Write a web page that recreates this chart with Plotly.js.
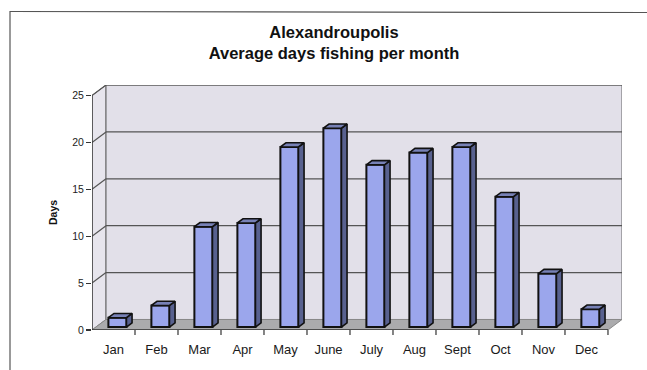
<!DOCTYPE html>
<html>
<head>
<meta charset="utf-8">
<script src="https://cdn.plot.ly/plotly-3.0.1.min.js"></script>
<style>html,body{margin:0;padding:0;background:#fff;}#chart{width:647px;height:370px;}</style>
</head>
<body>
<div id="chart"></div>
<script>
// ---- data ----
var months = ['Jan','Feb','Mar','Apr','May','June','July','Aug','Sept','Oct','Nov','Dec'];
var days = [1.0, 2.3, 10.7, 11.1, 19.2, 21.2, 17.3, 18.6, 19.2, 13.9, 5.7, 1.9];
var yTicks = [0, 5, 10, 15, 20, 25];
var chartTitle = 'Alexandroupolis<br>Average days fishing per month';
var yTitle = 'Days';

// ---- 3D look (style constants) ----
var DX = 0.326, DY = 1.12;      // depth offset of back wall in axis units
var F0 = 0.28, F1 = 0.68;       // bar front/back depth fractions
var BW = 0.42;                  // bar front width
var YMAX = 25;
var n = months.length;
var xs = months.map(function(_, i){ return i; });

var FONT = 'Arial, "Liberation Sans", sans-serif';
var W = 647, H = 370, ML = 92, MR = 25, MT = 85, MB = 40;
function px2paperX(p){ return (p - ML) / (W - ML - MR); }
function px2paperY(p){ return (H - MB - p) / (H - MT - MB); }

// side faces and top faces as filled polygons
var sideX = [], sideY = [], topX = [], topY = [];
for (var i = 0; i < n; i++) {
  var xl = xs[i] - BW/2 + F0*DX, xr = xs[i] + BW/2 + F0*DX;
  var b = F0*DY, t = days[i] + F0*DY;
  var ddx = (F1 - F0)*DX, ddy = (F1 - F0)*DY;
  sideX.push(xr, xr + ddx, xr + ddx, xr, xr, null);
  sideY.push(b, b + ddy, t + ddy, t, b, null);
  topX.push(xl, xr, xr + ddx, xl + ddx, xl, null);
  topY.push(t, t, t + ddy, t + ddy, t, null);
}

var traces = [
  {type:'scatter', mode:'lines', x: sideX, y: sideY, fill:'toself', fillcolor:'#58618f',
   line:{color:'#111', width:1.6}, hoverinfo:'skip', showlegend:false},
  {type:'scatter', mode:'lines', x: topX, y: topY, fill:'toself', fillcolor:'#7781b6',
   line:{color:'#111', width:1.6}, hoverinfo:'skip', showlegend:false},
  {type:'bar', x: xs.map(function(v){ return v + F0*DX; }), y: days,
   base: days.map(function(){ return F0*DY; }), width: BW,
   marker:{color:'#9ba6ec', line:{color:'#111', width:2}},
   hoverinfo:'x+y', showlegend:false}
];

var shapes = [];
// left wall
shapes.push({type:'path', layer:'below', xref:'x', yref:'y',
  path:'M -0.5 0 L -0.5 '+YMAX+' L '+(-0.5+DX)+' '+(YMAX+DY)+' L '+(-0.5+DX)+' '+DY+' Z',
  fillcolor:'#e7e5ed', line:{color:'#666', width:1}});
// back wall
shapes.push({type:'rect', layer:'below', xref:'x', yref:'y',
  x0:-0.5+DX, x1:n-0.5+DX, y0:DY, y1:YMAX+DY,
  fillcolor:'#e2e0e9', line:{color:'#666', width:1}});
// floor
shapes.push({type:'path', layer:'below', xref:'x', yref:'y',
  path:'M -0.5 0 L '+(n-0.5)+' 0 L '+(n-0.5+DX)+' '+DY+' L '+(-0.5+DX)+' '+DY+' Z',
  fillcolor:'#ababad', line:{color:'#888', width:1}});
// gridlines
yTicks.forEach(function(v){
  if (v === 0) return;
  shapes.push({type:'line', layer:'below', xref:'x', yref:'y',
    x0:-0.5+DX, x1:n-0.5+DX, y0:v+DY, y1:v+DY, line:{color:'#555', width:1.2}});
  shapes.push({type:'line', layer:'below', xref:'x', yref:'y',
    x0:-0.5, x1:-0.5+DX, y0:v, y1:v+DY, line:{color:'#555', width:1.2}});
});
// front axes lines
shapes.push({type:'line', xref:'x', yref:'y', x0:-0.5, x1:-0.5, y0:0, y1:YMAX, line:{color:'#333', width:1.3}});
shapes.push({type:'line', xref:'x', yref:'y', x0:-0.5, x1:n-0.5, y0:0, y1:0, line:{color:'#333', width:1.3}});
// category boundary ticks (below the front floor edge)
for (var k = 1; k <= n; k++) {
  shapes.push({type:'line', xref:'x', yref:'paper',
    x0:k-0.5, x1:k-0.5, y0:px2paperY(330), y1:px2paperY(335), line:{color:'#333', width:1.2}});
}
// outer frame
shapes.push({type:'line', xref:'paper', yref:'paper', x0:px2paperX(10), x1:px2paperX(10),
  y0:px2paperY(11), y1:px2paperY(372), line:{color:'#555', width:1.2}});
shapes.push({type:'line', xref:'paper', yref:'paper', x0:px2paperX(10), x1:px2paperX(650),
  y0:px2paperY(11.5), y1:px2paperY(12.5), line:{color:'#555', width:1.2}});

var layout = {
  width: W, height: H,
  margin:{l:ML, r:MR, t:MT, b:MB, pad:0},
  paper_bgcolor:'#fff', plot_bgcolor:'rgba(0,0,0,0)',
  font:{family:FONT, color:'#222'},
  title:{text: chartTitle, font:{family:FONT, size:16.5, color:'#111', weight:'bold'},
         xref:'container', x: 334/W, xanchor:'center', yref:'container', y: 1 - 38/H, yanchor:'top'},
  xaxis:{range:[-0.5, n-0.5+DX], tickmode:'array', tickvals: xs, ticktext: months,
         ticks:'', showgrid:false, zeroline:false, showline:false, fixedrange:true,
         ticklabelstandoff: 10,
         tickfont:{size:13, family:FONT, color:'#1a1a1a'}},
  yaxis:{range:[0, YMAX+DY], tickmode:'array', tickvals: yTicks, ticks:'outside', ticklen:5,
         tickcolor:'#333', tickwidth:1.2, showgrid:false, zeroline:false, showline:false, fixedrange:true,
         tickfont:{size:10.5, family:FONT, color:'#222'}},
  annotations:[{text: yTitle, xref:'paper', yref:'paper', x: px2paperX(53), y: px2paperY(213),
    xanchor:'center', yanchor:'middle', textangle:-90, showarrow:false,
    font:{family:FONT, size:10.5, color:'#111', weight:'bold'}}],
  shapes: shapes,
  bargap: 0
};

Plotly.newPlot('chart', traces, layout, {displayModeBar:false, staticPlot:true});
</script>
</body>
</html>
